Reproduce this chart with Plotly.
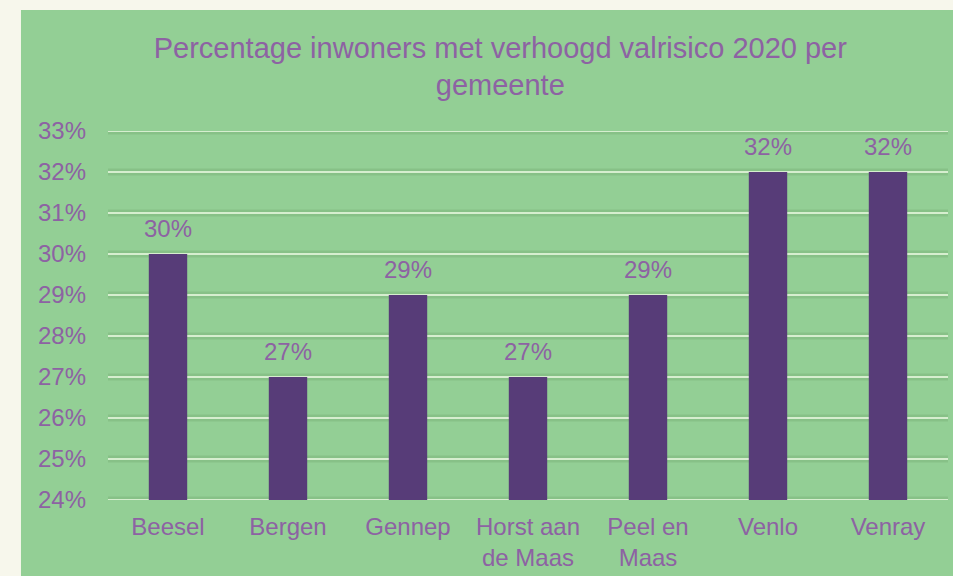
import plotly.graph_objects as go

GEMEENTEN = ["Beesel", "Bergen", "Gennep", "Horst aan<br>de Maas", "Peel en<br>Maas", "Venlo", "Venray"]
PERCENTAGES = [30, 27, 29, 27, 29, 32, 32]
LABELS = ["30%", "27%", "29%", "27%", "29%", "32%", "32%"]
Y_TICKS = [24, 25, 26, 27, 28, 29, 30, 31, 32, 33]
Y_TICK_TEXT = ["24%", "25%", "26%", "27%", "28%", "29%", "30%", "31%", "32%", "33%"]

BASELINE = 24
GREEN = "#93cf95"
CREAM = "#f7f7ec"
TEXT = "#8d62a3"
BAR = "#573c78"
FONT = "Liberation Sans, Arial, sans-serif"

fig = go.Figure(
    go.Bar(
        x=GEMEENTEN,
        y=[v - BASELINE for v in PERCENTAGES],
        base=BASELINE,
        marker={"color": BAR, "line": {"width": 0}},
        hovertemplate="%{x}: %{y}%<extra></extra>",
    )
)

# value labels sit a little higher above the bars than plotly's outside text
for name, value, label in zip(GEMEENTEN, PERCENTAGES, LABELS):
    fig.add_annotation(
        x=name,
        y=value,
        text=label,
        showarrow=False,
        yanchor="middle",
        yshift=26,
        font={"size": 24, "color": TEXT},
    )

# bevelled gridlines: a darker band with a light line on top
grid_shapes = []
for t in Y_TICKS:
    grid_shapes.append(
        {"type": "line", "xref": "paper", "yref": "y", "x0": 0, "x1": 1, "y0": t, "y1": t,
         "line": {"color": "#87c187", "width": 7}, "layer": "below"}
    )
    grid_shapes.append(
        {"type": "line", "xref": "paper", "yref": "y", "x0": 0, "x1": 1, "y0": t, "y1": t,
         "line": {"color": "#d6eecf", "width": 2}, "layer": "below"}
    )

fig.update_layout(
    width=953,
    height=576,
    paper_bgcolor=GREEN,
    plot_bgcolor=GREEN,
    font={"family": FONT, "color": TEXT, "size": 24},
    margin={"l": 108, "r": 5, "t": 131, "b": 76},
    bargap=0.68,
    showlegend=False,
    title={
        "text": "Percentage inwoners met verhoogd valrisico 2020 per<br>gemeente",
        "x": 0.525,
        "xanchor": "center",
        "y": 0.90,
        "yanchor": "top",
        "font": {"size": 29, "color": TEXT},
    },
    shapes=[
        {"type": "rect", "xref": "paper", "yref": "paper", "x0": -0.2, "x1": -0.1036,
         "y0": -0.3, "y1": 1.5, "fillcolor": CREAM, "line": {"width": 0}, "layer": "below"},
        {"type": "rect", "xref": "paper", "yref": "paper", "x0": -0.2, "x1": 1.2,
         "y0": 1.328, "y1": 1.5, "fillcolor": CREAM, "line": {"width": 0}, "layer": "below"},
    ] + grid_shapes,
)
fig.update_yaxes(
    range=[BASELINE, 33],
    tickvals=Y_TICKS,
    ticktext=Y_TICK_TEXT,
    showgrid=False,
    zeroline=False,
    ticklabelstandoff=21,
    tickfont={"size": 24, "color": TEXT},
)
fig.update_xaxes(
    showgrid=False,
    showline=False,
    ticklabelstandoff=10,
    tickfont={"size": 24, "color": TEXT},
)

fig.write_html(
    "out.html",
    config={"displayModeBar": False},
    post_script="document.body.style.margin='0';",
)
